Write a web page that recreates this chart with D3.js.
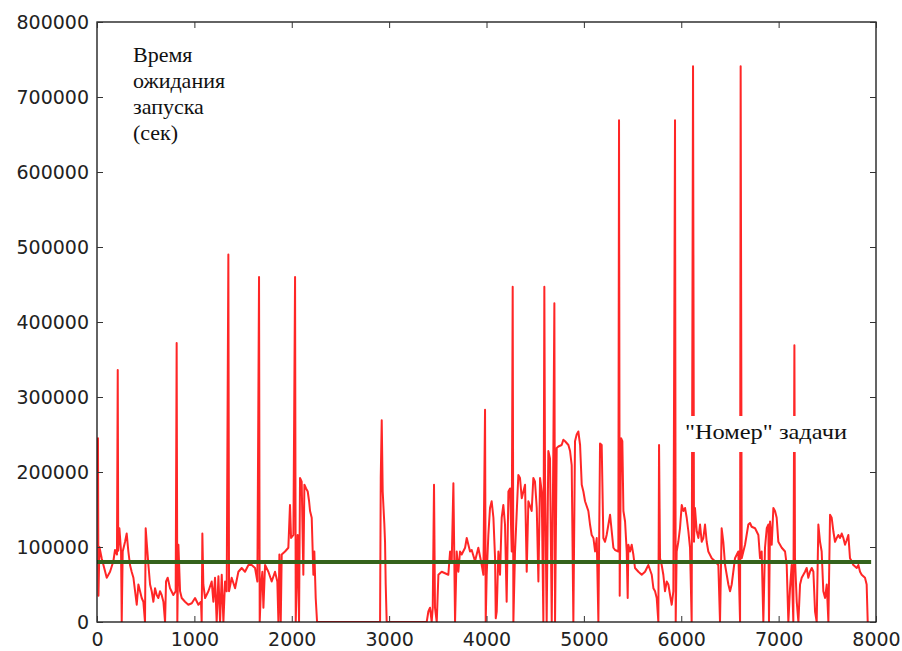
<!DOCTYPE html>
<html>
<head>
<meta charset="utf-8">
<script src="https://cdn.jsdelivr.net/npm/d3@7"></script>
<style>
  body { margin: 0; background: #fff; }
  .tick-label { font-family: "DejaVu Sans", sans-serif; font-size: 19px; fill: #222; }
</style>
</head>
<body>
<div id="chart"></div>
<script>
// waiting time before start (sec) by task number
const waitSeries = [
  [0,200000],[10,245000],[15,35000],[25,100000],[48,85000],[100,59000],[134,67000],[168,81000],[185,96000],[205,90000],
  [213,336000],[218,95000],[230,125000],[247,94000],[254,0],[264,94000],[288,107000],[305,118000],[322,94000],[339,76000],
  [356,67000],[374,59000],[391,41000],[408,23000],[425,50000],[442,41000],[459,32000],[476,27000],[493,0],[500,125000],
  [510,107000],[528,76000],[545,50000],[562,41000],[579,27000],[596,45000],[613,36000],[630,32000],[647,41000],[664,36000],
  [682,27000],[699,0],[709,54000],[726,59000],[750,45000],[784,36000],[808,41000],[818,372000],[825,0],[836,103000],
  [853,41000],[870,32000],[904,27000],[938,23000],[973,25000],[1007,32000],[1041,23000],[1068,27000],[1075,0],[1082,118000],
  [1092,50000],[1110,32000],[1144,41000],[1178,54000],[1195,27000],[1212,59000],[1229,0],[1247,61000],[1264,0],[1281,63000],
  [1298,0],[1315,54000],[1332,41000],
  [1349,490000],[1356,41000],[1383,59000],[1418,45000],[1452,67000],[1486,72000],[1520,67000],[1555,76000],[1589,76000],
  [1623,72000],[1647,54000],[1664,460000],[1671,0],[1685,50000],[1698,67000],[1709,19000],[1726,76000],[1760,67000],
  [1794,54000],[1828,67000],[1852,54000],[1863,0],[1873,90000],[1887,0],[1897,90000],[1931,94000],[1965,99000],
  [1982,156000],[1993,112000],[2017,116000],[2034,460000],[2041,0],[2061,116000],[2075,0],[2085,192000],[2102,187000],
  [2119,63000],[2130,183000],[2147,178000],[2164,174000],[2178,161000],[2188,148000],[2205,139000],[2222,63000],
  [2232,94000],[2246,32000],[2260,0],
  [2907,0],[2914,192000],[2924,269000],[2934,174000],[2951,130000],[2958,107000],[2965,50000],[2975,0],[3386,0],
  [3403,14000],[3420,19000],[3437,0],[3448,19000],[3461,183000],[3471,19000],[3489,0],[3506,63000],[3540,67000],
  [3574,65000],[3608,63000],[3626,94000],[3643,81000],[3660,185000],[3677,0],[3694,94000],[3711,67000],[3728,94000],
  [3745,90000],[3780,99000],[3797,112000],[3814,103000],[3831,94000],[3848,96000],[3882,81000],[3916,99000],[3951,76000],
  [3968,63000],[3985,283000],[3992,0],
  [4002,63000],[4019,116000],[4036,152000],[4053,161000],[4071,139000],[4088,85000],[4095,5000],[4105,14000],[4122,94000],
  [4139,63000],[4156,139000],[4173,156000],[4190,130000],[4207,27000],[4225,174000],[4242,178000],[4259,94000],
  [4269,447000],[4276,0],[4293,94000],[4327,196000],[4344,192000],[4362,165000],[4379,174000],[4396,183000],[4413,67000],
  [4430,161000],[4464,148000],[4481,192000],[4498,187000],[4516,152000],[4533,54000],[4550,192000],[4567,174000],[4584,0],
  [4594,447000],[4601,196000],[4618,0],[4635,228000],[4652,218000],[4670,0],[4687,236000],[4697,425000],[4704,0],
  [4721,232000],[4738,234000],[4772,236000],[4789,243000],[4807,241000],[4841,236000],[4858,228000],[4875,209000],
  [4892,0],[4909,241000],[4926,250000],[4943,254000],[4961,236000],[4978,183000],[4995,174000],[5012,161000],
  [5046,148000],[5063,130000],[5080,116000],[5098,112000],[5115,94000],[5132,112000],[5149,0],[5166,238000],
  [5183,236000],[5200,112000],[5217,107000],[5234,116000],[5252,130000],[5269,143000],[5286,121000],[5303,99000],
  [5320,96000],[5354,94000],[5361,669000],[5368,35000],[5382,245000],[5395,241000],[5406,148000],[5423,134000],
  [5440,94000],[5450,32000],[5457,103000],[5474,94000],[5491,103000],[5508,90000],[5525,72000],[5560,67000],[5594,63000],
  [5628,67000],[5662,76000],[5697,63000],[5714,45000],[5731,41000],[5748,32000],[5765,0],[5772,236000],[5782,85000],
  [5799,76000],[5816,63000],[5833,41000],[5851,54000],[5868,50000],[5885,36000],[5902,23000],[5919,41000],[5936,669000],
  [5943,0],[5953,94000],[5970,107000],[5987,125000],[6005,156000],[6022,148000],[6039,152000],[6056,139000],[6073,121000],
  [6090,99000],[6107,0],[6121,741000],[6131,107000],[6141,152000],[6159,121000],[6176,112000],[6193,130000],[6210,107000],
  [6227,112000],[6244,130000],[6261,107000],[6278,94000],[6313,85000],[6347,81000],[6381,76000],[6398,0],[6415,125000],
  [6432,107000],[6450,76000],[6484,50000],[6501,41000],[6518,50000],[6552,85000],[6586,94000],[6604,0],[6610,741000],
  [6621,85000],[6655,103000],[6689,130000],
  [6706,132000],[6723,127000],[6758,125000],[6792,116000],[6809,85000],[6826,94000],[6843,0],[6860,99000],[6878,125000],
  [6895,130000],[6901,0],[6912,134000],[6929,103000],[6946,152000],[6963,148000],[6980,139000],[6997,107000],[7032,99000],
  [7066,94000],[7083,76000],[7100,0],[7117,45000],[7134,76000],[7151,0],[7162,369000],[7168,85000],[7186,27000],[7203,0],
  [7220,50000],[7237,59000],[7254,63000],[7271,67000],[7288,72000],[7305,59000],[7322,67000],[7340,72000],[7357,67000],
  [7374,14000],[7391,0],[7408,130000],[7425,107000],[7442,94000],[7459,41000],[7477,32000],[7494,50000],[7511,0],
  [7528,143000],[7545,139000],[7562,121000],[7579,107000],[7596,112000],[7613,116000],[7631,112000],[7648,118000],
  [7665,112000],[7682,103000],[7699,109000],[7716,116000],[7733,85000],[7750,81000],[7767,76000],[7785,74000],
  [7802,72000],[7819,76000],[7836,67000],[7853,63000],[7887,59000],[7904,50000],[7915,0]
];

// average level (green line)
const meanWait = 80000;
const meanRange = [0, 7950];

const xTicks = [0, 1000, 2000, 3000, 4000, 5000, 6000, 7000, 8000];
const yTicks = [0, 100000, 200000, 300000, 400000, 500000, 600000, 700000, 800000];
const yLabelLines = ["Время", "ожидания", "запуска", "(сек)"];
const xLabel = "\"Номер\" задачи";

const margin = {top: 22, right: 26, bottom: 29, left: 97};
const width = 902 - margin.left - margin.right;
const height = 651 - margin.top - margin.bottom;
const serif = "'Liberation Serif', 'DejaVu Serif', 'Times New Roman', serif";

const svg = d3.select("#chart")
    .append("svg")
    .attr("width", 902)
    .attr("height", 651)
    .append("g")
    .attr("transform", `translate(${margin.left},${margin.top})`);

let x = d3.scaleLinear().domain([0, 8000]).range([0, width]);
let y = d3.scaleLinear().domain([0, 800000]).range([height, 0]);

svg.append("clipPath").attr("id", "plot-clip")
    .append("rect").attr("width", width).attr("height", height);

// red series
svg.append("path")
    .datum(waitSeries)
    .attr("clip-path", "url(#plot-clip)")
    .attr("fill", "none")
    .attr("stroke", "#ff0000")
    .attr("stroke-opacity", 0.85)
    .attr("stroke-width", 2)
    .attr("stroke-linejoin", "round")
    .attr("d", d3.line().x(d => x(d[0])).y(d => y(d[1])));

// mean line
svg.append("line")
    .attr("x1", x(meanRange[0]))
    .attr("x2", x(meanRange[1]))
    .attr("y1", y(meanWait))
    .attr("y2", y(meanWait))
    .attr("stroke", "#35631c")
    .attr("stroke-width", 4);

// frame
svg.append("rect")
    .attr("width", width)
    .attr("height", height)
    .attr("fill", "none")
    .attr("stroke", "#111")
    .attr("stroke-width", 1.3);

// inward ticks on all four sides (classic style)
const tickLen = 6;
let yAxisL = svg.append("g")
    .call(d3.axisLeft(y).tickValues(yTicks).tickSizeInner(-tickLen).tickSizeOuter(0).tickPadding(8).tickFormat(d3.format("d")));
let yAxisR = svg.append("g")
    .attr("transform", `translate(${width},0)`)
    .call(d3.axisRight(y).tickValues(yTicks).tickSizeInner(-tickLen).tickSizeOuter(0).tickFormat(""));
let xAxisB = svg.append("g")
    .attr("transform", `translate(0,${height})`)
    .call(d3.axisBottom(x).tickValues(xTicks).tickSizeInner(-tickLen).tickSizeOuter(0).tickPadding(11).tickFormat(d3.format("d")));
let xAxisT = svg.append("g")
    .call(d3.axisTop(x).tickValues(xTicks).tickSizeInner(-tickLen).tickSizeOuter(0).tickFormat(""));

svg.selectAll(".domain").remove();
svg.selectAll(".tick line").attr("stroke", "#333").attr("stroke-width", 1);
svg.selectAll(".tick text")
    .attr("class", "tick-label")
    .attr("font-size", null)
    .attr("font-family", null)
    .attr("fill", null);

// y caption, top left
svg.append("text")
    .attr("font-family", serif)
    .attr("font-size", 22)
    .attr("fill", "#111")
    .selectAll("tspan")
    .data(yLabelLines)
    .enter()
    .append("tspan")
    .attr("x", 36)
    .attr("y", (d, i) => 40 + i * 26)
    .text(d => d);

// x caption with white box over the lines
svg.append("rect")
    .attr("x", 581)
    .attr("y", 394)
    .attr("width", 176)
    .attr("height", 36)
    .attr("fill", "#fff");
svg.append("text")
    .attr("font-family", serif)
    .attr("font-size", 22)
    .attr("fill", "#111")
    .attr("x", 588)
    .attr("y", 417)
    .attr("textLength", 162)
    .attr("lengthAdjust", "spacingAndGlyphs")
    .text(xLabel);
</script>
</body>
</html>
